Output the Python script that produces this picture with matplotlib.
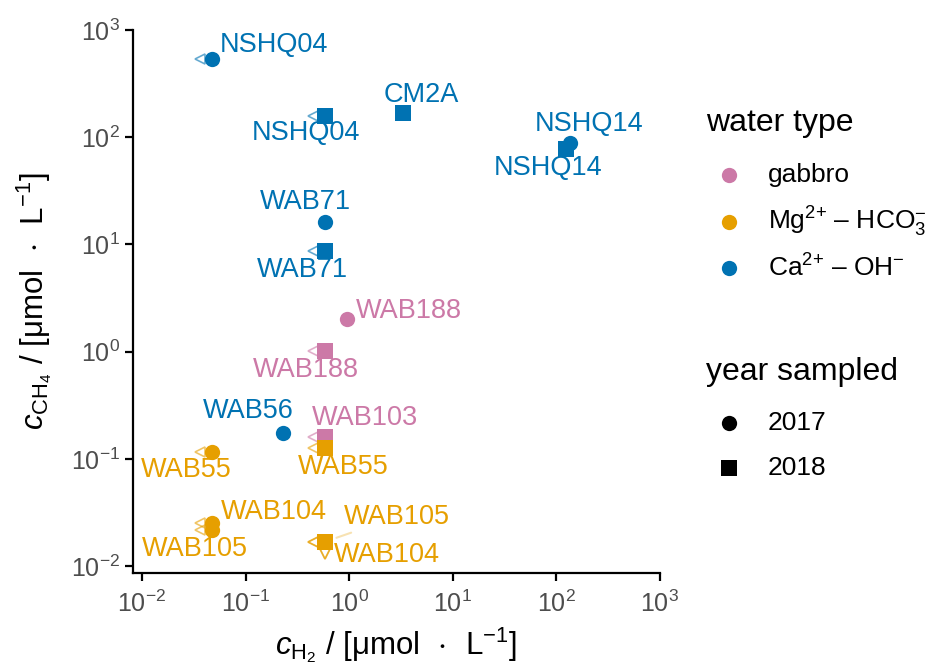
import matplotlib
matplotlib.use('Agg')
import matplotlib.pyplot as plt
import matplotlib.transforms as mtransforms
from matplotlib.lines import Line2D

plt.rcParams['font.family'] = ['Liberation Sans', 'DejaVu Sans']
plt.rcParams['mathtext.fontset'] = 'custom'
plt.rcParams['mathtext.rm'] = 'Liberation Sans'
plt.rcParams['mathtext.it'] = 'Liberation Sans:italic'
plt.rcParams['mathtext.bf'] = 'Liberation Sans:bold'
plt.rcParams['mathtext.default'] = 'regular'

# Sample data
samples = ['NSHQ04', 'NSHQ04', 'CM2A', 'NSHQ14', 'NSHQ14', 'WAB71', 'WAB71',
           'WAB56', 'WAB188', 'WAB188', 'WAB103', 'WAB55', 'WAB55',
           'WAB104', 'WAB105', 'WAB104', 'WAB105']
years = [2017, 2018, 2018, 2017, 2018, 2017, 2018,
         2017, 2017, 2018, 2018, 2017, 2018,
         2017, 2017, 2018, 2018]
water_type = ['Ca', 'Ca', 'Ca', 'Ca', 'Ca', 'Ca', 'Ca',
              'Ca', 'gabbro', 'gabbro', 'gabbro', 'Mg', 'Mg',
              'Mg', 'Mg', 'Mg', 'Mg']
h2 = [0.047, 0.58, 3.3, 135, 123, 0.58, 0.58,
      0.23, 0.96, 0.58, 0.58, 0.047, 0.58,
      0.047, 0.047, 0.58, 0.58]
ch4 = [537, 158, 168, 88, 77.6, 16.2, 8.7,
       0.174, 2.01, 1.01, 0.160, 0.116, 0.126,
       0.0252, 0.0217, 0.0168, 0.0168]
# below detection limit flags
h2_bdl = [True, True, False, False, False, False, True,
          False, False, True, True, True, True,
          True, True, True, True]
ch4_bdl = [False, False, False, False, False, False, False,
           False, False, False, False, False, False,
           False, False, True, True]

type_names = ['gabbro', 'Mg', 'Ca']
type_labels = ['gabbro', r'Mg$^{2{+}}$ – HCO$_3^{-}$', r'Ca$^{2{+}}$ – OH$^{-}$']
type_colors = {'gabbro': '#CC79A7', 'Mg': '#E69F00', 'Ca': '#0072B2'}
year_list = [2017, 2018]
year_markers = {2017: 'o', 2018: 's'}

# label offsets (pixels, x right / y up) from each point, like ggrepel placed them
label_offsets = [(62, 14), (-19, -17), (18, 18), (19, 19), (-17, -19), (-19, 20), (-22, -19),
                 (-35, 22), (62, 8), (-19, -19), (40, 19), (-25, -18), (19, -19),
                 (62, 11), (-17, -19), (62, -13), (72, 25)]
segment = [False] * 16 + [True]

W, H = 928, 668
fig = plt.figure(figsize=(W / 100, H / 100), dpi=100)
ax = fig.add_axes([0.1433, 0.1422, 0.5677, 0.8128])
ax.set_xscale('log')
ax.set_yscale('log')
ax.set_xlim(10 ** -2.087, 1e3)
ax.set_ylim(10 ** -2.065, 1e3)

px = 72 / fig.dpi
left_shift = ax.transData + mtransforms.ScaledTranslation(-12 / fig.dpi, 0, fig.dpi_scale_trans)
down_shift = ax.transData + mtransforms.ScaledTranslation(0, -12 / fig.dpi, fig.dpi_scale_trans)

# detection-limit triangles
for i in range(len(samples)):
    c = type_colors[water_type[i]]
    if h2_bdl[i]:
        ax.plot(h2[i], ch4[i], marker='<', ms=7, mfc='none', mec=c, mew=1.2,
                alpha=0.6, transform=left_shift, zorder=2)
    if ch4_bdl[i]:
        ax.plot(h2[i], ch4[i], marker='v', ms=7, mfc='none', mec=c, mew=1.2,
                alpha=0.6, transform=down_shift, zorder=2)

# points
for t in type_names:
    for yr in year_list:
        idx = [i for i in range(len(samples)) if water_type[i] == t and years[i] == yr]
        if not idx:
            continue
        ax.plot([h2[i] for i in idx], [ch4[i] for i in idx], ls='none',
                marker=year_markers[yr], ms=11, color=type_colors[t], mew=0, zorder=3)

# labels
for i in range(len(samples)):
    c = type_colors[water_type[i]]
    dx, dy = label_offsets[i]
    kw = {}
    if segment[i]:
        kw['arrowprops'] = dict(arrowstyle='-', color=c, alpha=0.3, lw=1.5,
                                shrinkA=0, shrinkB=9)
    ax.annotate(samples[i], (h2[i], ch4[i]), xytext=(dx * px, dy * px),
                textcoords='offset points', ha='center', va='center',
                fontsize=19.5, color=c, zorder=4, **kw)

# axes styling
for s in ['top', 'right']:
    ax.spines[s].set_visible(False)
for s in ['left', 'bottom']:
    ax.spines[s].set_linewidth(1.6)
ax.tick_params(which='major', length=5.5, width=1.6, labelsize=18, labelcolor='#4D4D4D', pad=4)
ax.tick_params(axis='x', which='major', pad=7)
ax.tick_params(which='minor', length=0)
ax.set_xticks([1e-2, 1e-1, 1e0, 1e1, 1e2, 1e3])
ax.set_yticks([1e-2, 1e-1, 1e0, 1e1, 1e2, 1e3])
ax.set_xlabel(r'$\mathit{c}_{\mathrm{H_2}}$ / [μmol $\,\cdot\,$ L$^{-1}$]', fontsize=22.5, labelpad=6)
ax.set_ylabel(r'$\mathit{c}_{\mathrm{CH_4}}$ / [μmol $\,\cdot\,$ L$^{-1}$]', fontsize=22.5)
ax.yaxis.set_label_coords(-0.15, 0.5)


# legends, placed the way ggplot puts them to the right of the panel
def fx(x):
    return x / W


def fy(y):
    return 1 - y / H


fig.text(fx(706), fy(123), 'water type', fontsize=23, ha='left', va='center')
for k, t in enumerate(type_names):
    yk = 175 + 46.5 * k
    fig.add_artist(Line2D([fx(729)], [fy(yk)], transform=fig.transFigure, ls='none',
                          marker='o', ms=11, mew=0, color=type_colors[t]))
    fig.text(fx(768), fy(yk), type_labels[k], fontsize=19, ha='left', va='center')

fig.text(fx(706), fy(372), 'year sampled', fontsize=23, ha='left', va='center')
for k, yr in enumerate(year_list):
    yk = 423 + 45 * k
    fig.add_artist(Line2D([fx(729)], [fy(yk)], transform=fig.transFigure, ls='none',
                          marker=year_markers[yr], ms=11, mew=0, color='black'))
    fig.text(fx(768), fy(yk), str(yr), fontsize=19, ha='left', va='center')

fig.savefig('out.png', dpi=100)
